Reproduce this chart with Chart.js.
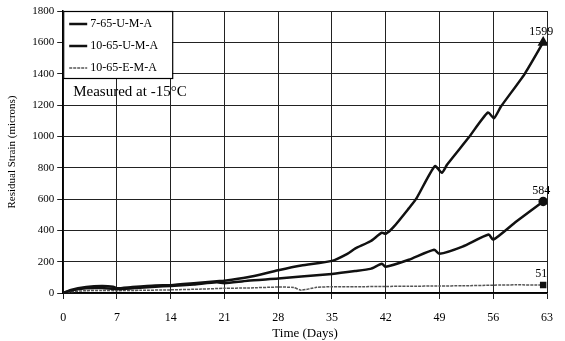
<!DOCTYPE html>
<html>
<head>
<meta charset="utf-8">
<script src="https://cdn.jsdelivr.net/npm/chart.js@4.4.1/dist/chart.umd.min.js"></script>
<style>
  body { margin: 0; background: #fff; }
  #wrap { width: 565px; height: 341px; }
</style>
</head>
<body>
<div id="wrap"><canvas id="strainChart"></canvas></div>
<script>
const seriesNames = ["7-65-U-M-A", "10-65-U-M-A", "10-65-E-M-A"];

const days1 = [0, 1, 3, 5, 6.5, 7, 9, 12, 14, 17, 20, 21, 24, 28, 31, 35, 37, 38, 40, 41.5, 42, 43, 45, 46, 48.4, 49.3, 50, 52.8, 55.3, 56.1, 57, 60.1, 62.5];
const strain1 = [0, 20, 38, 45, 40, 30, 38, 48, 50, 62, 75, 78, 100, 145, 175, 205, 250, 283, 330, 385, 378, 420, 540, 604, 810, 767, 820, 992, 1152, 1116, 1190, 1399, 1599];

const days2 = [0, 1, 3, 5, 7, 9, 12, 14, 17, 20, 21, 24, 28, 31, 35, 38, 40, 41.5, 42, 45, 48.3, 49, 52, 55.4, 56, 59, 62.5];
const strain2 = [0, 15, 30, 32, 25, 30, 40, 45, 55, 68, 62, 78, 92, 105, 122, 140, 154, 186, 167, 212, 276, 250, 296, 373, 340, 456, 584];

const days3 = [0, 1, 3, 5, 7, 10, 14, 18, 21, 24, 28, 30, 31, 33, 35, 38, 42, 45, 49, 52, 56, 59, 62.5];
const strain3 = [0, 8, 15, 16, 15, 17, 20, 25, 30, 32, 38, 35, 18, 36, 40, 40, 42, 43, 45, 46, 50, 52, 51];

const endLabels = ["1599", "584", "51"];
const xTicks = [0, 7, 14, 21, 28, 35, 42, 49, 56, 63];

function pts(xs, ys) {
    return xs.map((x, i) => ({ x: x, y: ys[i] }));
}

const serif = "'Liberation Serif', 'DejaVu Serif', serif";

// legend box, note and end values drawn inside the plot
const legendBox = {
    id: 'legendBox',
    afterDraw(chart) {
        const ctx = chart.ctx;
        const area = chart.chartArea;
        const left = area.left, top = area.top;
        ctx.save();
        ctx.fillStyle = '#fff';
        ctx.fillRect(left, top, 109, 67);
        ctx.strokeStyle = '#000';
        ctx.lineWidth = 1.2;
        ctx.strokeRect(left + 0.5, top + 0.5, 109, 67);
        ctx.font = "12px " + serif;
        ctx.textBaseline = 'middle';
        chart.data.datasets.forEach((ds, i) => {
            const y = top + 13 + i * 22;
            ctx.beginPath();
            ctx.strokeStyle = ds.borderColor;
            ctx.lineWidth = ds.borderWidth;
            ctx.setLineDash(ds.borderDash || []);
            ctx.moveTo(left + 6, y);
            ctx.lineTo(left + 24, y);
            ctx.stroke();
            ctx.setLineDash([]);
            ctx.fillStyle = '#000';
            ctx.fillText(ds.label, left + 27, y);
        });
        ctx.font = "15px " + serif;
        ctx.fillText("Measured at -15\u00B0C", left + 10, top + 81);

        ctx.font = "12px " + serif;
        ctx.textAlign = 'center';
        ctx.textBaseline = 'bottom';
        chart.data.datasets.forEach((ds, i) => {
            const meta = chart.getDatasetMeta(i);
            const p = meta.data[meta.data.length - 1];
            ctx.fillText(endLabels[i], p.x - 2, p.y - 5);
        });
        ctx.restore();
    }
};

new Chart(document.getElementById("strainChart"), {
    type: 'scatter',
    data: {
        datasets: [
            {
                label: seriesNames[0],
                data: pts(days1, strain1),
                showLine: true,
                borderColor: '#111',
                borderWidth: 2.5,
                pointRadius: strain1.map((v, i) => i === strain1.length - 1 ? 4 : 0),
                pointStyle: 'triangle',
                pointBackgroundColor: '#111',
                pointBorderColor: '#111',
                tension: 0.2
            },
            {
                label: seriesNames[1],
                data: pts(days2, strain2),
                showLine: true,
                borderColor: '#111',
                borderWidth: 2.5,
                pointRadius: strain2.map((v, i) => i === strain2.length - 1 ? 3.5 : 0),
                pointStyle: 'circle',
                pointBackgroundColor: '#111',
                pointBorderColor: '#111',
                tension: 0.2
            },
            {
                label: seriesNames[2],
                data: pts(days3, strain3),
                showLine: true,
                borderColor: '#555',
                borderWidth: 1.5,
                borderDash: [3, 1],
                pointRadius: strain3.map((v, i) => i === strain3.length - 1 ? 3.5 : 0),
                pointStyle: 'rect',
                pointBackgroundColor: '#111',
                pointBorderColor: '#111',
                tension: 0.2
            }
        ]
    },
    options: {
        responsive: true,
        maintainAspectRatio: false,
        animation: false,
        layout: { padding: { left: 6, right: 3, top: 11, bottom: 0 } },
        plugins: {
            legend: { display: false },
            tooltip: { enabled: false }
        },
        scales: {
            x: {
                type: 'linear',
                min: 0,
                max: 63,
                afterBuildTicks: (axis) => { axis.ticks = xTicks.map(v => ({ value: v })); },
                grid: { color: '#222', lineWidth: 1, tickLength: 6 },
                border: { color: '#000', width: 1.5 },
                ticks: {
                    color: '#000',
                    padding: 12,
                    maxRotation: 0,
                    font: { family: serif, size: 12 }
                },
                title: {
                    display: true,
                    text: 'Time (Days)',
                    color: '#000',
                    padding: { top: -12, bottom: 0 },
                    font: { family: serif, size: 13 }
                }
            },
            y: {
                min: 0,
                max: 1800,
                ticks: {
                    stepSize: 200,
                    color: '#000',
                    padding: 3,
                    callback: (v) => String(v),
                    font: { family: serif, size: 11 }
                },
                grid: { color: '#222', lineWidth: 1, tickLength: 6 },
                border: { color: '#000', width: 1.5 },
                title: {
                    display: true,
                    text: 'Residual Strain (microns)',
                    color: '#000',
                    padding: { top: 0, bottom: 10 },
                    font: { family: serif, size: 11 }
                }
            }
        }
    },
    plugins: [legendBox]
});
</script>
</body>
</html>
